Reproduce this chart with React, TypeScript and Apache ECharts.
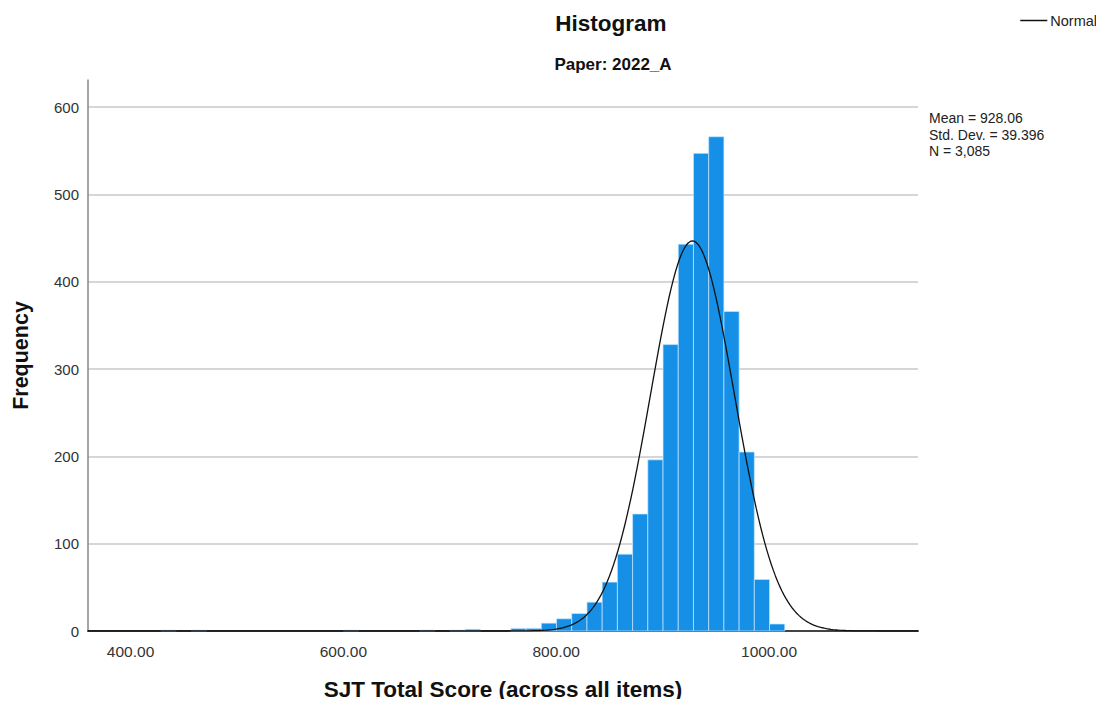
import React, { useEffect, useRef } from "react";
import * as echarts from "echarts";

// Histogram bins (score units)
const binStart = 428.5;
const binWidth = 14.3;
const counts = [
  1, 0, 1, 0, 0, 0, 0, 0, 0, 0,
  0, 0, 1, 0, 0, 0, 0, 1, 0, 1,
  2, 0, 0, 3, 3, 9, 14, 20, 33, 56,
  88, 134, 196, 328, 443, 547, 566, 366, 205, 59,
  8,
];

// Summary statistics shown on the chart
const mean = 928.06;
const stdDev = 39.396;
const n = 3085;

const xTickValues = [400, 600, 800, 1000];
const xMin = 360;
const xMax = 1140;
const yMax = 631;

const FONT = "'Liberation Sans', Arial, sans-serif";

export default function App() {
  const ref = useRef<HTMLDivElement>(null);

  useEffect(() => {
    if (!ref.current) return;
    const chart = echarts.init(ref.current, undefined, { renderer: "svg" });

    const histData = counts.map((c, i) => [i, c]);

    // Fitted normal curve from the displayed mean / SD / N
    const normalData: number[][] = [];
    for (let x = xMin; x <= xMax; x += 2) {
      const z = (x - mean) / stdDev;
      const y = (n * binWidth * Math.exp(-0.5 * z * z)) / (stdDev * Math.sqrt(2 * Math.PI));
      normalData.push([x, y]);
    }

    chart.setOption({
      animation: false,
      textStyle: { fontFamily: FONT },
      title: [
        {
          text: "Histogram",
          left: 606,
          top: 7,
          textAlign: "center",
          textStyle: { fontSize: 22.5, fontWeight: "bold", color: "#111", fontFamily: FONT },
        },
        {
          text: "Paper: 2022_A",
          left: 608,
          top: 51,
          textAlign: "center",
          textStyle: { fontSize: 17, fontWeight: "bold", color: "#111", fontFamily: FONT },
        },
      ],
      legend: {
        data: [{ name: "Normal", icon: "rect" }],
        right: 2,
        top: 8,
        itemWidth: 27,
        itemHeight: 1.5,
        itemGap: 4,
        textStyle: { fontSize: 14.5, color: "#222", fontFamily: FONT, padding: [0, 0, 0, -2] },
      },
      graphic: [
        {
          type: "text",
          left: 929,
          top: 110,
          style: {
            text: "Mean = 928.06\nStd. Dev. = 39.396\nN = 3,085",
            font: `14px ${FONT}`,
            fill: "#222",
            lineHeight: 16.5,
          },
        },
      ],
      grid: { left: 88, right: 186, top: 80, bottom: 76 },
      xAxis: {
        type: "value",
        min: xMin,
        max: xMax,
        name: "SJT Total Score (across all items)",
        nameLocation: "middle",
        nameGap: 47,
        nameTextStyle: { fontSize: 22.5, fontWeight: "bold", color: "#111", fontFamily: FONT },
        axisLine: { show: true, lineStyle: { color: "#444", width: 2 } },
        axisTick: { show: false },
        splitLine: { show: false },
        axisLabel: {
          customValues: xTickValues,
          formatter: (v: number) => v.toFixed(2),
          fontSize: 15.5,
          color: "#333",
          margin: 12,
          fontFamily: FONT,
        },
      },
      yAxis: {
        type: "value",
        min: 0,
        max: yMax,
        interval: 100,
        name: "Frequency",
        nameLocation: "middle",
        nameGap: 56,
        nameTextStyle: { fontSize: 21.5, fontWeight: "bold", color: "#111", fontFamily: FONT },
        axisLine: { show: true, lineStyle: { color: "#888", width: 1.5 } },
        axisTick: { show: false },
        axisLabel: {
          fontSize: 15,
          color: "#333",
          margin: 9,
          showMaxLabel: false,
          fontFamily: FONT,
        },
        splitLine: {
          show: true,
          showMaxLine: false,
          lineStyle: { color: "#c8c8c8", width: 1.5 },
        },
      },
      series: [
        {
          type: "custom",
          name: "Histogram",
          data: histData,
          renderItem: (params: any, api: any) => {
            const idx = api.value(0);
            const count = api.value(1);
            if (!count) return null;
            const x0 = binStart + idx * binWidth;
            const x1 = x0 + binWidth;
            const p0 = api.coord([x0, count]);
            const p1 = api.coord([x1, 0]);
            return {
              type: "rect",
              shape: { x: p0[0], y: p0[1], width: p1[0] - p0[0], height: p1[1] - p0[1] },
              style: { fill: "#1590e6", stroke: "rgba(200,230,255,0.7)", lineWidth: 1 },
            };
          },
          z: 2,
        },
        {
          type: "line",
          name: "Normal",
          data: normalData,
          showSymbol: false,
          symbol: "none",
          smooth: false,
          lineStyle: { color: "#111", width: 1.3 },
          itemStyle: { color: "#111" },
          z: 3,
        },
      ],
    });

    return () => chart.dispose();
  }, []);

  return <div ref={ref} style={{ width: 1104, height: 707, margin: -8 }} />;
}
